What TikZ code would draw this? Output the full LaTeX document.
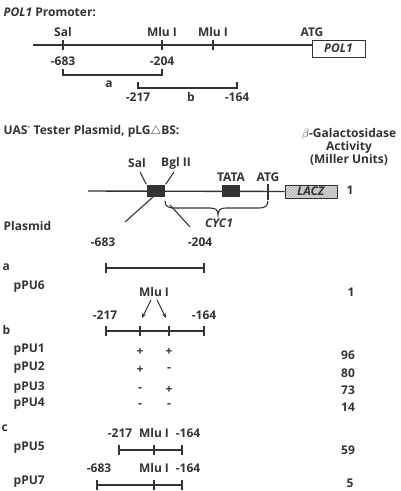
\documentclass[tikz,border=0pt]{standalone}
\usepackage{fontspec}
\setmainfont{Open Sans}
\usepackage{xcolor}
\usetikzlibrary{patterns,arrows.meta}
\definecolor{ink}{HTML}{333333}

\begin{document}
\begin{tikzpicture}[x=1pt,y=-1pt,line width=1.4pt,color=ink,
    every node/.style={inner sep=1pt,font=\fontsize{12}{14}\selectfont\bfseries},
    tick/.style={line width=1.3pt},
    bar/.style={line width=1.3pt}]
    \def\tk{5}
    \useasboundingbox (0,0) rectangle (401,491);

    % POL1 promoter
    \node[anchor=west] (poltitle) at (2,12) {\textit{POL1} Promoter:};
    \node[draw,minimum width=53pt,minimum height=17pt,line width=1pt] (polbox) at (338.5,48.5) {\textit{POL1}};
    \coordinate (polstart) at (33,45);
    \coordinate (polend) at (312,45);
    \draw (polstart) -- (polend);
    \foreach \x/\nm/\lab in {63/sal/Sal,162/mlua/Mlu I,213/mlub/Mlu I}{
        \draw[tick] (\x,40) -- (\x,50);
        \node (\nm) at (\x,32) {\lab};
    }
    \node (atgtop) at (312,32) {ATG};
    \node (p683) at (63,61) {-683};
    \node (p204) at (162,61) {-204};
    \draw[bar] (63,69) -- (63,75) -- (162,75) -- (162,69);
    \node (fraga) at (109,84) {a};
    \draw[bar] (138,82) -- (138,88) -- (237,88) -- (237,82);
    \node (p217) at (138,97) {-217};
    \node (fragb) at (191,97) {b};
    \node (p164) at (237,97) {-164};

    % tester plasmid
    \node[anchor=west] (uastitle) at (2,131) {UAS\textsuperscript{-} Tester Plasmid, pLG$\triangle$BS:};
    \node (galact) at (349,134) {$\beta$-Galactosidase};
    \node (activity) at (349,147) {Activity};
    \node (miller) at (349,160) {(Miller Units)};

    \node[draw,line width=1pt,minimum width=52pt,minimum height=13pt,
        preaction={fill=gray!30},pattern=north east lines,pattern color=gray!70] (lacz) at (311,191.5) {\textit{LACZ}};
    \coordinate (linestart) at (88,191);
    \draw (linestart) -- (lacz.west);
    \node[fill=ink,minimum width=18pt,minimum height=12pt,inner sep=0pt] (uasbox) at (156,191) {};
    \node[fill=ink,minimum width=18pt,minimum height=12pt,inner sep=0pt] (tatabox) at (231,191) {};
    \node (salb) at (137,163) {Sal};
    \node (bgl) at (176,163) {Bgl II};
    \node (tata) at (231,177) {TATA};
    \node (atg) at (268,177) {ATG};
    \draw[tick] (268,184) -- (268,200);
    \draw[line width=1.1pt] (140,172) -- (uasbox.north west);
    \draw[line width=1.1pt] (174,172) -- (uasbox.north east);
    \draw[line width=1.1pt] (153,197) -- (125,222);
    \draw[line width=1.1pt] (170,205) -- (190,227);
    % CYC1 brace
    \draw[line width=1.1pt] (165,201) .. controls (165,206) and (168,208) .. (174,208)
        -- (210,208) .. controls (216,208) and (218,210) .. (218,215)
        .. controls (218,210) and (220,208) .. (226,208) -- (259,208)
        .. controls (265,208) and (268,206) .. (268,201);
    \node (cyc) at (219,223) {\textit{CYC1}};
    \node (one) at (350,190) {1};

    \node[anchor=west] (plasmid) at (2,226) {Plasmid};
    \node (q683) at (103,242) {-683};
    \node (q204) at (200,242) {-204};

    % a
    \node[anchor=west] (seta) at (1,267) {a};
    \draw[bar] (106,268) -- (204,268);
    \foreach \x in {106,204} \draw[tick] (\x,268-\tk) -- (\x,268+\tk);
    \node[anchor=west] (ppu6) at (12,287) {pPU6};
    \node (v6) at (351,292) {1};

    % b
    \node (mlu) at (154,292) {Mlu I};
    \coordinate (mt1) at (142,318);
    \coordinate (mt2) at (166,318);
    \draw[line width=1pt,-{Stealth[length=5pt,width=4pt]}] (151,300) -- (mt1);
    \draw[line width=1pt,-{Stealth[length=5pt,width=4pt]}] (157,300) -- (mt2);
    \node (r217) at (105,315) {-217};
    \node (r164) at (204,315) {-164};
    \node[anchor=west] (setb) at (1,330) {b};
    \draw[bar] (106,331) -- (204,331);
    \foreach \x in {106,140,169,204} \draw[tick] (\x,331-\tk) -- (\x,331+\tk);
    \foreach \nm/\y/\sa/\sb/\v/\vy in {1/350/+/+/96/355, 2/368/+/-/80/373,
        3/388/-/+/73/390, 4/404/-/-/14/407}{
        \node[anchor=west] (ppu\nm) at (12,\y) {pPU\nm};
        \node (sa\nm) at (140,\y+2) {\sa};
        \node (sb\nm) at (169,\y+2) {\sb};
        \node (val\nm) at (348,\vy) {\v};
    }

    % c
    \node[anchor=west] (setc) at (0,428) {c};
    \node[anchor=west] (ppu5) at (12,448) {pPU5};
    \draw[bar] (119,450) -- (182,450);
    \foreach \x in {119,154,182} \draw[tick] (\x,450-\tk) -- (\x,450+\tk);
    \node (c217) at (120,433) {-217};
    \node (cmlu) at (154,433) {Mlu I};
    \node (c164) at (188,433) {-164};
    \node (v5) at (348,450) {59};

    \node[anchor=west] (ppu7) at (12,482) {pPU7};
    \draw[bar] (97,485) -- (182,485);
    \foreach \x in {97,154,182} \draw[tick] (\x,485-\tk) -- (\x,485+\tk);
    \node (d683) at (99,468) {-683};
    \node (dmlu) at (154,468) {Mlu I};
    \node (d164) at (188,468) {-164};
    \node (v7) at (350,483) {5};
\end{tikzpicture}
\end{document}
